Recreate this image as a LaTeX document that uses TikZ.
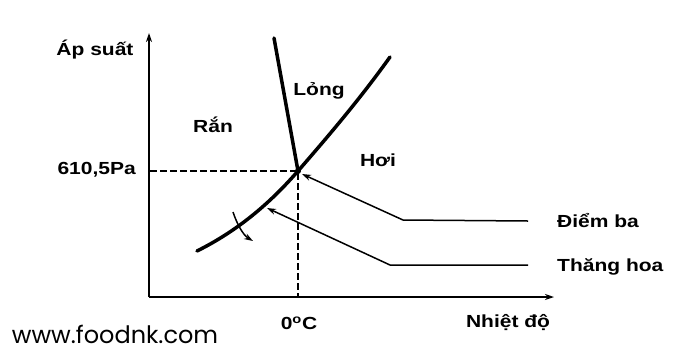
\documentclass[tikz,border=0pt]{standalone}
\usepackage{fontspec}
\setmainfont{Liberation Sans}
\newfontfamily\webfont{Poppins}
\usetikzlibrary{arrows.meta}
\begin{document}
\begin{tikzpicture}[x=1bp,y=-1bp,
  lbl/.style={font=\fontsize{17.5bp}{21bp}\selectfont\bfseries, xscale=1.2, inner sep=0pt},
  axis/.style={line width=2bp, -{Stealth[length=9bp,width=6bp]}},
  phase/.style={line width=3.5bp, line cap=round},
  guide/.style={line width=1.5bp, dash pattern=on 7bp off 3bp},
  pointer/.style={line width=1.5bp, -{Stealth[length=9bp,width=6bp]}}]
\useasboundingbox (0,0) rectangle (696,363);
% coordinates
\coordinate (O) at (149,297);
\coordinate (ytop) at (149,33);
\coordinate (xend) at (554,297);
\coordinate (p610) at (150,171);
\coordinate (tp) at (298,171);
\coordinate (t0) at (298,296);
\coordinate (ftop) at (274,38);
\coordinate (sstart) at (197,251);
\coordinate (vend) at (390,57);
\coordinate (tpA) at (302,174);
\coordinate (dbKnee) at (403,220);
\coordinate (dbEnd) at (528,221);
\coordinate (thTip) at (267,208);
\coordinate (thKnee) at (390,265);
\coordinate (thEnd) at (528,265);
\coordinate (tkA) at (233,212);
\coordinate (tkB) at (253,241);
% axes
\draw[axis] (O) -- (ytop);
\draw[axis] (O) -- (xend);
% guides
\draw[guide] (p610) -- (tp) -- (t0);
% phase lines
\draw[phase] (ftop) -- (tp);
\draw[phase] (sstart) .. controls (232,233.5) and (265,209) .. (tp)
                      .. controls (328,136.5) and (360,99) .. (vend);
\fill (tp) circle (3bp);
% small curved arrow
\draw[pointer] (tkA) .. controls (237,224) and (243,235) .. (tkB);
% pointers
\draw[pointer] (dbEnd) -- (dbKnee) -- (tpA);
\draw[pointer] (thEnd) -- (thKnee) -- (thTip);
% labels
\node[lbl] (ap) at (95,50) {Áp suất};
\node[lbl, anchor=east] (pa) at (136,170) {610,5Pa};
\node[lbl] (ran) at (213,125) {Rắn};
\node[lbl] (long) at (319,91) {Lỏng};
\node[lbl] (hoi) at (378,160) {Hơi};
\node[lbl, anchor=west] (db) at (557,221) {Điểm ba};
\node[lbl, anchor=west] (th) at (557,267) {Thăng hoa};
\node[lbl] (nd) at (508,323) {Nhiệt độ};
\node[lbl] (zc) at (299,323) {0\textsuperscript{o}C};
\node[font=\webfont\fontsize{24bp}{28bp}\selectfont, inner sep=0pt] (web) at (115,334) {www.foodnk.com};
\end{tikzpicture}
\end{document}
